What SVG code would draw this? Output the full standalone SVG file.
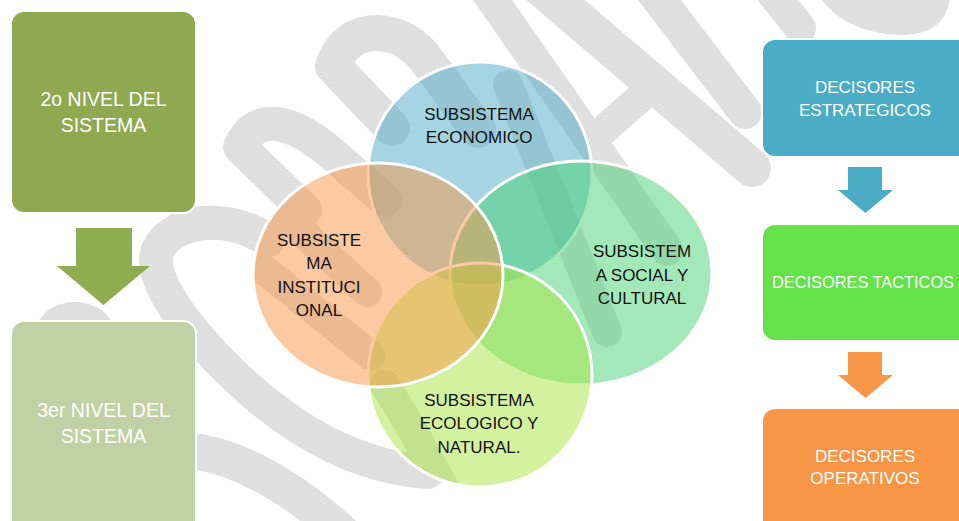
<svg xmlns="http://www.w3.org/2000/svg" width="959" height="521" viewBox="0 0 959 521">
<defs>
<style>
.wm{fill:none;stroke:#dfdfdf;stroke-linecap:round;stroke-linejoin:round}
.wmf{fill:#dfdfdf}
.box{stroke:#fff;stroke-width:2}
.wt{font-family:"Liberation Sans",Arial,sans-serif;fill:#fff;text-anchor:middle}
.lt{font-size:19.5px}
.rt{font-size:17px}
.ct{font-family:"Liberation Sans",Arial,sans-serif;fill:#111;font-size:17px;text-anchor:middle}
.venn{fill-opacity:.5;stroke:#fff;stroke-width:3}
</style>
<clipPath id="vennclip">
<circle cx="480" cy="174" r="112"/>
<ellipse cx="581" cy="273" rx="131" ry="112"/>
<circle cx="480" cy="375" r="112"/>
<ellipse cx="378" cy="275" rx="125" ry="112"/>
</clipPath>
</defs>
<rect width="959" height="521" fill="#fff"/>
<g id="watermark">
<path class="wm" stroke-width="36" d="M392,128 L333,66 Q345,33 377,33 Q408,34 428,62 L478,130"/>
<path class="wm" stroke-width="34" d="M305,210 L240,147 Q252,121 277,124 Q300,127 330,152 L385,200"/>
<path class="wm" stroke-width="34" d="M268,240 C225,212 172,220 158,250 C145,282 200,345 250,390 C305,438 365,468 428,472"/>
<path class="wm" stroke-width="36" d="M200,452 Q268,465 345,535"/>
<ellipse class="wmf" cx="75" cy="330" rx="38" ry="28"/>
<path class="wm" stroke-width="32" d="M482,-15 L667,250"/>
<path class="wm" stroke-width="38" d="M538,-15 L752,168"/>
<path class="wm" stroke-width="34" d="M648,-15 L745,112"/>
<path class="wm" stroke-width="30" d="M598,135 L640,98"/>
<path class="wm" stroke-width="32" d="M770,-10 Q790,15 800,28"/>
<path class="wmf" d="M818,-5 Q845,35 905,35 Q948,33 950,-5 Z"/>
<g clip-path="url(#vennclip)">
<path class="wm" stroke-width="30" d="M262,195 L367,292"/>
<path class="wm" stroke-width="30" d="M258,265 L370,355"/>
<path class="wm" stroke-width="30" d="M508,85 L607,332"/>
<path class="wm" stroke-width="30" d="M385,385 Q420,440 450,500"/>
</g>
</g>
<g id="connectors">
<polygon points="76,228 132,228 132,266 150,266 103.5,305 57,266 76,266" fill="#8fac51"/>
<polygon points="848,167 882,167 882,190 893,190 865.5,213 838,190 848,190" fill="#4bacc6"/>
<polygon points="848,352 882,352 882,375 893,375 865.5,398 838,375 848,375" fill="#f79646"/>
</g>
<g id="nivel2">
<rect class="box" x="11" y="11" width="185" height="202" rx="13" fill="#8ea94f"/>
<text class="wt lt" x="103.5" y="106">2o NIVEL DEL</text>
<text class="wt lt" x="103.5" y="132">SISTEMA</text>
</g>
<g id="nivel3">
<rect class="box" x="11" y="321" width="185" height="215" rx="13" fill="#c0d1a3"/>
<text class="wt lt" x="103.5" y="417">3er NIVEL DEL</text>
<text class="wt lt" x="103.5" y="443">SISTEMA</text>
</g>
<g id="economico">
<circle class="venn" cx="480" cy="174" r="112" fill="#4bacc6"/>
<text class="ct" x="479" y="120">SUBSISTEMA</text>
<text class="ct" x="479" y="143">ECONOMICO</text>
</g>
<g id="social">
<ellipse class="venn" cx="581" cy="273" rx="131" ry="112" fill="#45d171"/>
<text class="ct" x="642" y="257">SUBSISTEM</text>
<text class="ct" x="642" y="281">A SOCIAL Y</text>
<text class="ct" x="642" y="304">CULTURAL</text>
</g>
<g id="ecologico">
<circle class="venn" cx="480" cy="375" r="112" fill="#a7e53f"/>
<text class="ct" x="479" y="406">SUBSISTEMA</text>
<text class="ct" x="479" y="429">ECOLOGICO Y</text>
<text class="ct" x="479" y="453">NATURAL.</text>
</g>
<g id="institucional">
<ellipse class="venn" cx="378" cy="275" rx="125" ry="112" fill="#f79646"/>
<text class="ct" x="319" y="246">SUBSISTE</text>
<text class="ct" x="319" y="269">MA</text>
<text class="ct" x="319" y="293">INSTITUCI</text>
<text class="ct" x="319" y="316">ONAL</text>
</g>
<g id="estrategicos">
<rect class="box" x="762" y="39" width="210" height="118" rx="13" fill="#4bacc6"/>
<text class="wt rt" x="865" y="93">DECISORES</text>
<text class="wt rt" x="865" y="116">ESTRATEGICOS</text>
</g>
<g id="tacticos">
<rect class="box" x="762" y="224" width="210" height="117" rx="13" fill="#63e24a"/>
<text class="wt rt" x="863" y="288" textLength="182" lengthAdjust="spacingAndGlyphs">DECISORES TACTICOS</text>
</g>
<g id="operativos">
<rect class="box" x="762" y="408" width="210" height="130" rx="13" fill="#f79646"/>
<text class="wt rt" x="865" y="462">DECISORES</text>
<text class="wt rt" x="865" y="484">OPERATIVOS</text>
</g>
</svg>
